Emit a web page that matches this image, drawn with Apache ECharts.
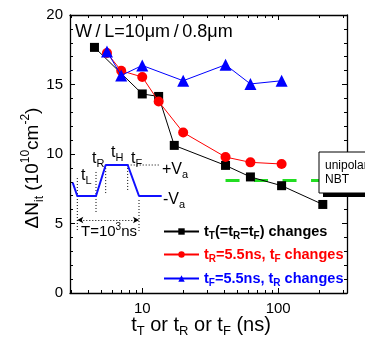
<!DOCTYPE html>
<html>
<head>
<meta charset="utf-8">
<script src="https://cdn.jsdelivr.net/npm/echarts@6/dist/echarts.min.js"></script>
<style>html,body{margin:0;padding:0;background:#fff}#c{width:365px;height:342px}</style>
</head>
<body>
<div id="c"></div>
<script>
// ---- data (x in ns, y in 10^10 cm^-2) ----
const blackX = [4.45, 10, 13.2, 17.2, 41, 62.5, 106, 213];
const blackY = [17.67, 14.32, 14.14, 10.62, 9.18, 8.35, 7.72, 6.37];
const redX = [5.5, 7, 10, 13.2, 20, 41, 62.5, 106];
const redY = [17.27, 15.99, 15.54, 13.78, 11.55, 9.78, 9.40, 9.28];
const blueX = [5.5, 7, 10, 20, 41, 62.5, 106];
const blueY = [17.38, 15.65, 16.37, 15.27, 16.42, 15.04, 15.27];
const nbtX = [41, 321];
const nbtY = [8.1, 8.1];
// axis
const xMin = 2.94, xMax = 321;
const xMajor = [10, 100];
const xMinor = [3, 4, 5, 6, 7, 8, 9, 20, 30, 40, 50, 60, 70, 80, 90, 200, 300];
const yTicks = [0, 5, 10, 15, 20];
// inset pulse schematic (time units, voltage in units of Va)
const pulseT = [2.7, 7.3, 26, 35.7, 57.7, 69, 91.7];
const pulseV = [-0.14, -1, -1, 1, 1, -1, -1];
const guideSegs = [
  [[7.3, 0.16], [7.3, -3.32]],
  [[26, 0.55], [26, -2.1]],
  [[35.7, 0.8], [35.7, -0.81]],
  [[57.7, 0.81], [57.7, -0.61]],
  [[69, -1.26], [69, -3.32]],
  [[57.7, 1], [90, 1]]
];
const periodArrow = [[7.3, -2.55], [69, -2.55]];

const L = v => Math.log10(v);
const pts = (xs, ys) => xs.map((x, i) => [L(x), ys[i]]);

const FONT = 'Liberation Sans, Arial, sans-serif';
const chart = echarts.init(document.getElementById('c'));

function xAxisDef(pos, vals, len, labels, line) {
  return {
    type: 'value', gridIndex: 0, position: pos, min: L(xMin), max: L(xMax),
    axisLine: {show: line, onZero: false, lineStyle: {color: '#000', width: 1.3}},
    axisTick: {show: true, inside: true, length: len, customValues: vals.map(L), lineStyle: {color: '#000', width: 1}},
    axisLabel: labels ? {show: true, customValues: vals.map(L), margin: 8, color: '#000', fontSize: 15, fontFamily: FONT,
      formatter: v => String(Math.round(Math.pow(10, v)))} : {show: false},
    splitLine: {show: false}
  };
}
function yAxisDef(pos, labels) {
  return {
    type: 'value', gridIndex: 0, position: pos, min: 0, max: 20, interval: 5,
    axisLine: {show: true, onZero: false, lineStyle: {color: '#000', width: 1.3}},
    axisTick: {show: true, inside: true, length: 5, lineStyle: {color: '#000', width: 1}},
    minorTick: {show: true, splitNumber: 5, length: 3, lineStyle: {color: '#000', width: 1}},
    axisLabel: labels ? {show: true, margin: 7, color: '#000', fontSize: 15, fontFamily: FONT} : {show: false},
    splitLine: {show: false}
  };
}

const legendDefs = [
  {name: 'tT', color: '#000', top: 224, fmt: '{b|t}{s|T}{b|(=t}{s|R}{b|=t}{s|F}{b|) changes}'},
  {name: 'tR', color: '#ff0000', top: 247, fmt: '{b|t}{s|R}{b|=5.5ns, t}{s|F}{b| changes}'},
  {name: 'tF', color: '#0000ff', top: 271, fmt: '{b|t}{s|F}{b|=5.5ns, t}{s|R}{b| changes}'}
];

const guideSeries = guideSegs.map(seg => ({
  type: 'line', xAxisIndex: 4, yAxisIndex: 2, data: seg, symbol: 'none', silent: true,
  lineStyle: {color: '#000', width: 1, type: [1, 2]}, clip: false, z: 3
}));

const option = {
  animation: false,
  backgroundColor: '#fff',
  grid: [
    {left: 70, right: 18, top: 15, bottom: 49},
    {left: 70, width: 95, top: 141.75, height: 93}
  ],
  xAxis: [
    xAxisDef('bottom', xMajor, 5, true, true),
    xAxisDef('bottom', xMinor, 3, false, false),
    xAxisDef('top', xMajor, 5, false, true),
    xAxisDef('top', xMinor, 3, false, false),
    {type: 'value', gridIndex: 1, min: 0, max: 95, show: false}
  ],
  yAxis: [
    yAxisDef('left', true),
    yAxisDef('right', false),
    {type: 'value', gridIndex: 1, min: -3.5, max: 2.5, show: false}
  ],
  legend: legendDefs.map(d => ({
    data: [{name: d.name}], left: 163, top: d.top, orient: 'vertical', selectedMode: false,
    itemWidth: 35, itemHeight: 8, padding: 0,
    formatter: () => d.fmt,
    textStyle: {color: d.color, fontSize: 14.5, fontWeight: 'bold', fontFamily: FONT,
      rich: {
        b: {color: d.color, fontSize: 14.5, fontWeight: 'bold', fontFamily: FONT, lineHeight: 20},
        s: {color: d.color, fontSize: 10, fontWeight: 'bold', fontFamily: FONT, lineHeight: 10, verticalAlign: 'bottom'}
      }}
  })),
  series: [
    {name: 'NBT', type: 'line', data: pts(nbtX, nbtY), symbol: 'none', silent: true,
      lineStyle: {color: '#22dd22', width: 3, type: [14, 14.5]}, z: 1},
    {name: 'tT', type: 'line', data: pts(blackX, blackY), symbol: 'rect', symbolSize: 9,
      itemStyle: {color: '#000'}, lineStyle: {color: '#000', width: 1}, z: 2},
    {name: 'tR', type: 'line', data: pts(redX, redY), symbol: 'circle', symbolSize: 10,
      itemStyle: {color: '#ff0000'}, lineStyle: {color: '#ff0000', width: 1}, z: 3},
    {name: 'tF', type: 'line', data: pts(blueX, blueY), symbol: 'triangle', symbolSize: 12,
      itemStyle: {color: '#0000ff'}, lineStyle: {color: '#0000ff', width: 1}, z: 4},
    {name: 'pulse', type: 'line', xAxisIndex: 4, yAxisIndex: 2, data: pulseT.map((t, i) => [t, pulseV[i]]),
      symbol: 'none', silent: true, clip: false, lineStyle: {color: '#1010ff', width: 2}, z: 4,
      markLine: {silent: true, symbol: ['arrow', 'arrow'], symbolSize: [5, 6], label: {show: false},
        lineStyle: {color: '#000', width: 1, type: [1, 2]},
        data: [[{coord: periodArrow[0]}, {coord: periodArrow[1]}]]}},
    ...guideSeries
  ],
  graphic: [
    {type: 'text', x: 75, y: 32, z: 100, style: {text: 'W\u2009/\u2009L=10\u03bcm\u2009/\u20090.8\u03bcm', font: '18px ' + FONT, fill: '#000', verticalAlign: 'middle'}},
    {type: 'text', x: 33, y: 168, rotation: Math.PI / 2, z: 100, style: {
      text: '{m|\u0394N}{s|it}{m| (10}{p|10}{m|cm}{p|-2}{m|)}', align: 'center', verticalAlign: 'middle',
      rich: {m: {fontSize: 19, fontFamily: FONT, fill: '#000', lineHeight: 26},
             s: {fontSize: 12, fontFamily: FONT, fill: '#000', lineHeight: 12, verticalAlign: 'bottom'},
             p: {fontSize: 12, fontFamily: FONT, fill: '#000', lineHeight: 12, verticalAlign: 'top'}}}},
    {type: 'text', x: 201, y: 325, z: 100, style: {
      text: '{m|t}{s|T}{m| or t}{s|R}{m| or t}{s|F}{m| (ns)}', align: 'center', verticalAlign: 'middle',
      rich: {m: {fontSize: 20, fontFamily: FONT, fill: '#000', lineHeight: 26},
             s: {fontSize: 13, fontFamily: FONT, fill: '#000', lineHeight: 12, verticalAlign: 'bottom'}}}},
    // inset labels
    {type: 'text', x: 81, y: 176, z: 100, style: {text: '{m|t}{s|L}', verticalAlign: 'middle',
      rich: {m: {fontSize: 16, fontFamily: FONT, fill: '#000', lineHeight: 20}, s: {fontSize: 11, fontFamily: FONT, fill: '#000', lineHeight: 10, verticalAlign: 'bottom'}}}},
    {type: 'text', x: 92, y: 159, z: 100, style: {text: '{m|t}{s|R}', verticalAlign: 'middle',
      rich: {m: {fontSize: 16, fontFamily: FONT, fill: '#000', lineHeight: 20}, s: {fontSize: 11, fontFamily: FONT, fill: '#000', lineHeight: 10, verticalAlign: 'bottom'}}}},
    {type: 'text', x: 111, y: 153, z: 100, style: {text: '{m|t}{s|H}', verticalAlign: 'middle',
      rich: {m: {fontSize: 16, fontFamily: FONT, fill: '#000', lineHeight: 20}, s: {fontSize: 11, fontFamily: FONT, fill: '#000', lineHeight: 10, verticalAlign: 'bottom'}}}},
    {type: 'text', x: 131, y: 159, z: 100, style: {text: '{m|t}{s|F}', verticalAlign: 'middle',
      rich: {m: {fontSize: 16, fontFamily: FONT, fill: '#000', lineHeight: 20}, s: {fontSize: 11, fontFamily: FONT, fill: '#000', lineHeight: 10, verticalAlign: 'bottom'}}}},
    {type: 'text', x: 162, y: 170, z: 100, style: {text: '{m|+V}{s|a}', verticalAlign: 'middle',
      rich: {m: {fontSize: 16, fontFamily: FONT, fill: '#000', lineHeight: 20}, s: {fontSize: 11, fontFamily: FONT, fill: '#000', lineHeight: 10, verticalAlign: 'bottom'}}}},
    {type: 'text', x: 163, y: 200, z: 100, style: {text: '{m|-V}{s|a}', verticalAlign: 'middle',
      rich: {m: {fontSize: 16, fontFamily: FONT, fill: '#000', lineHeight: 20}, s: {fontSize: 11, fontFamily: FONT, fill: '#000', lineHeight: 10, verticalAlign: 'bottom'}}}},
    {type: 'text', x: 109, y: 232, z: 100, style: {text: '{m|T=10}{p|3}{m|ns}', align: 'center', verticalAlign: 'middle',
      rich: {m: {fontSize: 15, fontFamily: FONT, fill: '#000', lineHeight: 20}, p: {fontSize: 10, fontFamily: FONT, fill: '#000', lineHeight: 10, verticalAlign: 'top'}}}},
    // unipolar NBT box
    {type: 'rect', z: 100, shape: {x: 323, y: 156, width: 70, height: 41}, style: {fill: '#000'}},
    {type: 'rect', z: 101, shape: {x: 319, y: 152, width: 70, height: 41}, style: {fill: '#fff', stroke: '#000', lineWidth: 1}},
    {type: 'text', z: 102, x: 325, y: 166, style: {text: 'unipolar', font: '12px ' + FONT, fill: '#000', verticalAlign: 'middle'}},
    {type: 'text', z: 102, x: 325, y: 180, style: {text: 'NBT', font: '12px ' + FONT, fill: '#000', verticalAlign: 'middle'}}
  ]
};
chart.setOption(option);
</script>
</body>
</html>
